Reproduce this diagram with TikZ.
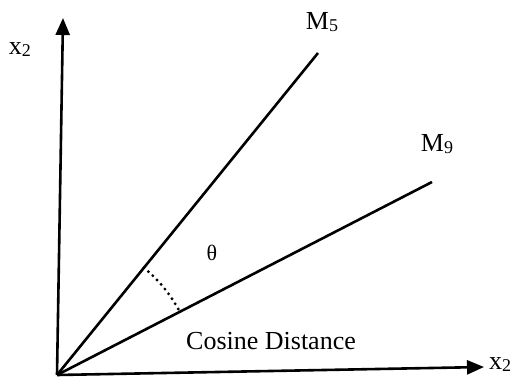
\documentclass[tikz,border=0pt]{standalone}
\usepackage{fontspec}
\setmainfont{Liberation Serif}
\usetikzlibrary{arrows.meta}
\begin{document}
\begin{tikzpicture}[x=1pt,y=1pt,
  axis/.style={line width=2.6pt,-{Triangle[length=17pt,width=14pt]}},
  vec/.style={line width=2.6pt},
  lbl/.style={font=\fontsize{26}{26}\selectfont,inner sep=0pt},
  dotarc/.style={line width=3.2pt,dash pattern=on 0pt off 6pt,line cap=round}]
\useasboundingbox (0,0) rectangle (516,376);
\coordinate (O) at (57,1);
\coordinate (Ytop) at (63,358);
\coordinate (Xend) at (484,9);
\coordinate (M5end) at (318,323);
\coordinate (M9end) at (432,194);
\draw[axis] (O) -- (Ytop);
\draw[axis] (O) -- (Xend);
\draw[vec] (O) -- (M5end);
\draw[vec] (O) -- (M9end);
\draw[dotarc] (O) ++(51:138pt) arc[start angle=51,end angle=27.2,radius=138pt];
\node[lbl] (ylab) at (20,326) {x\raisebox{-2pt}{\fontsize{18}{18}\selectfont 2}};
\node[lbl] (xlab) at (500,11) {x\raisebox{-2pt}{\fontsize{18}{18}\selectfont 2}};
\node[lbl] (m5) at (322,354) {M\raisebox{-2pt}{\fontsize{18}{18}\selectfont 5}};
\node[lbl] (m9) at (437,232) {M\raisebox{-2pt}{\fontsize{18}{18}\selectfont 9}};
\node[lbl,font=\fontsize{22}{22}\selectfont] (theta) at (212,123) {θ};
\node[lbl] (cd) at (271,35) {Cosine Distance};
\end{tikzpicture}
\end{document}
